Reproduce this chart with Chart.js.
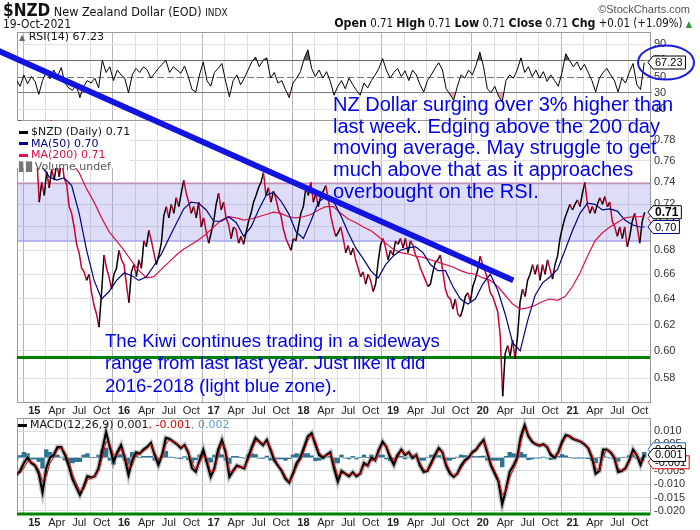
<!DOCTYPE html>
<html>
<head>
<meta charset="utf-8">
<title>$NZD New Zealand Dollar (EOD)</title>
<script src="https://cdn.jsdelivr.net/npm/chart.js@4.4.1/dist/chart.umd.min.js"></script>
<style>
  body { margin: 0; background: #fff; }
  #wrap { position: relative; width: 700px; height: 530px; overflow: hidden; font-family: 'Liberation Sans', Arial, sans-serif; color: #111; }
  #chart { position: absolute; left: 0; top: 0; }
  .abs { position: absolute; white-space: nowrap; }
  .narrow { font-family: 'Liberation Sans Narrow', 'DejaVu Sans Condensed', 'Liberation Sans', sans-serif; }
  .verd { font-family: 'DejaVu Sans', Verdana, sans-serif; font-size: 11px; }
  .sw { display: inline-block; width: 9px; height: 3px; vertical-align: middle; margin-right: 3px; }
  .note { position: absolute; color: #0000ee; white-space: nowrap; font-family: 'Liberation Sans', Arial, sans-serif; }
  .hb { font-weight: bold; font-size: 12.3px; }
</style>
</head>
<body>
<div id="wrap">
  <canvas id="chart" width="700" height="530"></canvas>

  <div class="abs narrow" style="left:3px; top:0px; font-size:12.5px;"><b style="font-size:17px">$NZD</b> New Zealand Dollar (EOD) <span style="font-size:10px">INDX</span></div>
  <div class="abs" style="right:10px; top:3px; font-size:11px; color:#555;">&copy;StockCharts.com</div>
  <div class="abs narrow" style="left:3px; top:17px; font-size:12px;">19-Oct-2021</div>
  <div class="abs narrow" style="right:8px; top:16px; font-size:11.4px;"><span class="hb">Open</span> 0.71 <span class="hb">High</span> 0.71 <span class="hb">Low</span> 0.71 <span class="hb">Close</span> 0.71 <span class="hb">Chg</span> +0.01 (+1.09%) <span style="color:#2a9a2a; font-size:9px">&#9650;</span></div>

  <div class="abs verd" style="left:19px; top:31px; line-height:11px;"><span style="color:#666; font-size:8px">&#9650;</span> RSI(14) 67.23</div>

  <div class="abs verd" style="left:17px; top:121px; width:113px; height:47px; background:#fff; padding-top:5px; line-height:11.5px; box-sizing:border-box;">
    <div style="padding-left:2px"><span class="sw" style="background:#000"></span>$NZD (Daily) 0.71</div>
    <div style="padding-left:2px; color:#000080"><span class="sw" style="background:#000080"></span>MA(50) 0.70</div>
    <div style="padding-left:2px; color:#dd1144"><span class="sw" style="background:#dd1144"></span>MA(200) 0.71</div>
    <div style="padding-left:2px; color:#555"><span style="color:#777; font-size:9px; margin-right:2px">&#9611;&#9609;</span>Volume undef</div>
  </div>

  <div class="abs verd" style="left:18px; top:419px; line-height:12px;"><span class="sw" style="background:#000"></span>MACD(12,26,9) 0.001<span style="color:#e00000">, -0.001</span><span style="color:#6699cc">, 0.002</span></div>

  <div class="note" style="left:333px; top:94px; font-size:20px; line-height:21.7px;">NZ Dollar surging over 3% higher than<br>last week. Edging above the 200 day<br>moving average. May struggle to get<br>much above that as it approaches<br>overbought on the RSI.</div>
  <div class="note" style="left:105px; top:330px; font-size:18.6px; line-height:22.3px;">The Kiwi continues trading in a sideways<br>range from last last year. Just like it did<br>2016-2018 (light blue zone).</div>
</div>

<script>
// time axis is in fractional years
const xMin = 2014.807;
const xMax = 2021.864;
const lastDate = 2021.805;

// closing price, three samples a month (about the 1st, 11th and 21st)
const priceStart = 2014.805;
const priceValues = [
  0.785, 0.790, 0.775, 0.785, 0.780, 0.770, 0.780,
  // 2015
  0.780, 0.765, 0.722,  0.740, 0.728, 0.750,  0.735, 0.752, 0.742,  0.758, 0.745, 0.762,
  0.744, 0.738, 0.718,  0.712, 0.700, 0.685,  0.678, 0.665, 0.662,  0.655, 0.660, 0.645,
  0.635, 0.628, 0.618,  0.645, 0.676, 0.665,  0.658, 0.648, 0.660,  0.665, 0.680, 0.672,
  // 2016
  0.668, 0.652, 0.637,  0.662, 0.668, 0.658,  0.672, 0.665, 0.688,  0.683, 0.697, 0.688,
  0.678, 0.668, 0.676,  0.686, 0.710, 0.718,  0.708, 0.720, 0.712,  0.726, 0.718, 0.730,
  0.742, 0.730, 0.722,  0.712, 0.718, 0.708,  0.722, 0.700, 0.708,  0.696, 0.686, 0.695,
  // 2017
  0.705, 0.720, 0.730,  0.715, 0.722, 0.708,  0.702, 0.690, 0.700,  0.698, 0.686, 0.692,
  0.685, 0.695, 0.705,  0.712, 0.722, 0.728,  0.735, 0.740, 0.749,  0.728, 0.735, 0.722,
  0.732, 0.725, 0.715,  0.710, 0.698, 0.690,  0.685, 0.680, 0.690,  0.688, 0.700, 0.712,
  // 2018
  0.718, 0.735, 0.728,  0.740, 0.722, 0.730,  0.718, 0.728, 0.732,  0.737, 0.725, 0.710,
  0.700, 0.692, 0.695,  0.700, 0.690, 0.678,  0.684, 0.676, 0.682,  0.672, 0.665, 0.658,
  0.662, 0.652, 0.660,  0.655, 0.646, 0.652,  0.670, 0.685, 0.690,  0.682, 0.672, 0.680,
  // 2019
  0.676, 0.688, 0.685,  0.690, 0.682, 0.690,  0.678, 0.688, 0.684,  0.676, 0.672, 0.665,
  0.660, 0.655, 0.650,  0.652, 0.662, 0.670,  0.672, 0.676, 0.662,  0.648, 0.642, 0.640,
  0.632, 0.640, 0.628,  0.626, 0.632, 0.642,  0.645, 0.638, 0.650,  0.656, 0.664, 0.675,
  // 2020
  0.668, 0.662, 0.656,  0.645, 0.642, 0.636,  0.630, 0.612, 0.567,  0.598, 0.604, 0.596,
  0.608, 0.594, 0.612,  0.638, 0.648, 0.642,  0.655, 0.660, 0.668,  0.660, 0.668, 0.655,
  0.668, 0.660, 0.672,  0.664, 0.656, 0.668,  0.675, 0.690, 0.700,  0.708, 0.714, 0.720,
  // 2021
  0.715, 0.720, 0.724,  0.718, 0.730, 0.740,  0.720, 0.712, 0.718,  0.712, 0.720, 0.726,
  0.720, 0.727, 0.718,  0.722, 0.705, 0.700,  0.692, 0.700, 0.690,  0.700, 0.683, 0.692,
  0.705, 0.712, 0.700,  0.686, 0.705, 0.713
];

// moving averages, one sample a month from Nov 2014
const maStart = 2014 + 10 / 12;
const ma50Values = [
  0.800, 0.787,
  0.775, 0.755, 0.745, 0.742, 0.744, 0.737, 0.712, 0.680, 0.655, 0.640, 0.646, 0.655,
  0.661, 0.659, 0.655, 0.658, 0.667, 0.677, 0.690, 0.703, 0.716, 0.722, 0.721, 0.715,
  0.705, 0.705, 0.709, 0.704, 0.692, 0.700, 0.715, 0.728, 0.731, 0.723, 0.712, 0.696,
  0.690, 0.705, 0.722, 0.727, 0.723, 0.710, 0.695, 0.682, 0.673, 0.663, 0.657, 0.668,
  0.675, 0.680, 0.682, 0.683, 0.678, 0.668, 0.663, 0.663, 0.650, 0.640, 0.636, 0.640,
  0.652, 0.660, 0.647, 0.628, 0.606, 0.600, 0.623, 0.643, 0.653, 0.658, 0.664, 0.680,
  0.697, 0.712, 0.721, 0.720, 0.715, 0.716, 0.714, 0.706, 0.702, 0.700, 0.700
];
const ma200Values = [
  0.835, 0.830,
  0.825, 0.815, 0.803, 0.787, 0.772, 0.758, 0.749, 0.734, 0.722, 0.708, 0.696, 0.688,
  0.680, 0.671, 0.663, 0.657, 0.658, 0.664, 0.670, 0.676, 0.681, 0.685, 0.689, 0.694,
  0.700, 0.706, 0.709, 0.708, 0.706, 0.707, 0.709, 0.711, 0.713, 0.712, 0.709, 0.708,
  0.709, 0.711, 0.715, 0.718, 0.718, 0.712, 0.707, 0.704, 0.700, 0.697, 0.692, 0.686,
  0.681, 0.678, 0.677, 0.675, 0.674, 0.672, 0.670, 0.668, 0.666, 0.663, 0.661, 0.660,
  0.657, 0.655, 0.650, 0.643, 0.636, 0.632, 0.633, 0.635, 0.638, 0.640, 0.639, 0.642,
  0.650, 0.661, 0.675, 0.688, 0.695, 0.700, 0.704, 0.708, 0.709, 0.709, 0.710
];

// indicators, two samples a month
const halfStart = 2014.80;
const rsiValues = [
  46, 38, 52, 41, 50, 44, 28, 45, 56, 47, 58, 50,
  61, 42, 36, 33, 40, 24, 38, 45, 42, 48, 36, 70,
  55, 62, 45, 58, 52, 48, 30, 52, 60, 55, 62, 58,
  48, 54, 60, 65, 70, 55, 62, 58, 54, 63, 50, 34,
  31, 52, 68, 45, 38, 55, 60, 66, 44, 25, 45, 52,
  40, 48, 58, 68, 74, 62, 70, 73, 48, 55, 42, 45,
  34, 24, 42, 48, 56, 72, 83, 60, 50, 58, 48, 56,
  44, 27, 38, 45, 35, 48, 40, 33, 27, 42, 36, 45,
  52, 60, 72, 58, 48, 55, 60, 50, 57, 45, 58, 52,
  40, 31, 45, 52, 60, 67, 58, 35, 28, 21, 38, 52,
  48, 58, 52, 64, 80, 62, 35, 30, 38, 26, 19, 45,
  52, 48, 58, 73, 55, 62, 50, 58, 48, 56, 44, 52,
  45, 38, 55, 78, 70, 62, 68, 58, 65, 55, 45, 31,
  48, 55, 60, 52, 45, 31, 48, 42, 55, 66, 40, 34,
  67.23
];
const macdValues = [
  -0.0065, -0.005, -0.002, 0.000, -0.002, -0.003, -0.006, -0.013, -0.004, 0.000, 0.001, 0.004,
  0.004, 0.001, -0.003, -0.008, -0.011, -0.014, -0.011, -0.007, -0.0075, -0.007, -0.004, 0.003,
  0.0096, 0.004, -0.0015, 0.002, 0.0047, 0.000, -0.0065, -0.001, 0.002, 0.0015, 0.003, 0.004,
  0.0055, 0.001, -0.0027, 0.001, 0.0074, 0.007, 0.006, 0.005, 0.0036, 0.0047, 0.002, -0.004,
  -0.0053, -0.001, 0.0029, -0.002, -0.0072, -0.004, 0.003, 0.0066, 0.002, -0.0072, -0.005, -0.003,
  -0.0035, -0.004, 0.000, 0.004, 0.0074, 0.006, 0.0047, 0.0066, 0.003, -0.001, -0.003, -0.005,
  -0.008, -0.0094, -0.006, -0.002, 0.000, 0.004, 0.008, 0.0092, 0.005, 0.001, 0.000, 0.001,
  0.002, -0.004, -0.009, -0.005, -0.006, -0.007, -0.0055, -0.007, -0.006, -0.002, -0.003, 0.000,
  -0.001, 0.003, 0.006, 0.004, 0.000, -0.0027, 0.001, 0.003, 0.001, 0.002, 0.000, 0.001,
  -0.003, -0.0054, -0.005, -0.002, 0.001, 0.0036, 0.002, -0.003, -0.006, -0.0072, -0.006, -0.003,
  -0.001, 0.000, 0.002, 0.003, 0.005, 0.0066, 0.002, -0.003, -0.006, -0.009, -0.0175, -0.012,
  -0.0054, -0.003, 0.000, 0.008, 0.0122, 0.008, 0.006, 0.005, 0.0045, 0.005, 0.004, 0.001,
  0.000, 0.002, 0.006, 0.0085, 0.008, 0.007, 0.0065, 0.006, 0.005, 0.0036, 0.000, -0.006,
  -0.005, 0.003, 0.003, 0.002, 0.000, -0.0054, -0.005, -0.004, -0.001, 0.003, 0.001, -0.0027,
  0.001
];
const signalValues = [
  -0.006, -0.0058, -0.004, -0.0015, -0.0015, -0.0025, -0.0045, -0.009, -0.007, -0.002, 0.000, 0.003,
  0.0038, 0.002, -0.001, -0.006, -0.0095, -0.0125, -0.012, -0.0085, -0.0075, -0.007, -0.005, 0.000,
  0.006, 0.005, 0.001, 0.001, 0.0035, 0.001, -0.004, -0.003, 0.001, 0.0015, 0.0025, 0.0035,
  0.005, 0.002, -0.001, 0.000, 0.005, 0.0068, 0.006, 0.0052, 0.004, 0.0043, 0.0028, -0.002,
  -0.0045, -0.002, 0.001, -0.0005, -0.0055, -0.005, 0.001, 0.0055, 0.003, -0.005, -0.0055, -0.0035,
  -0.0035, -0.0038, -0.0012, 0.0025, 0.0062, 0.0062, 0.005, 0.006, 0.004, 0.000, -0.0025, -0.0045,
  -0.007, -0.009, -0.007, -0.0035, -0.001, 0.0025, 0.0065, 0.0085, 0.0062, 0.002, 0.0005, 0.0008,
  0.0015, -0.002, -0.007, -0.006, -0.0058, -0.0065, -0.006, -0.0065, -0.006, -0.003, -0.003, -0.001,
  -0.001, 0.002, 0.005, 0.0045, 0.0012, -0.0015, 0.000, 0.0025, 0.0015, 0.0018, 0.0005, 0.0008,
  -0.002, -0.0045, -0.005, -0.003, 0.000, 0.0028, 0.0022, -0.002, -0.005, -0.0068, -0.0062, -0.004,
  -0.0018, -0.0005, 0.0015, 0.0026, 0.0045, 0.006, 0.003, -0.002, -0.005, -0.008, -0.014, -0.0125,
  -0.0075, -0.0045, -0.0012, 0.006, 0.011, 0.0088, 0.0065, 0.0052, 0.0046, 0.0048, 0.0042, 0.0018,
  0.0004, 0.0015, 0.0048, 0.0078, 0.008, 0.0072, 0.0066, 0.0061, 0.0052, 0.004, 0.001, -0.004,
  -0.005, 0.001, 0.0028, 0.0022, 0.0005, -0.004, -0.005, -0.0042, -0.0018, 0.002, 0.0014, -0.0015,
  -0.001
];
const histValues = [
  -0.0005, 0.0008, 0.002, 0.0015, -0.0005, -0.0005, -0.0015, -0.004, 0.003, 0.002, 0.001, 0.001,
  0.0002, -0.001, -0.002, -0.002, -0.0015, -0.0015, 0.001, 0.0015, 0.000, 0.000, 0.001, 0.003,
  0.0036, -0.001, -0.0025, 0.001, 0.0012, -0.001, -0.0025, 0.002, 0.001, 0.000, 0.0005, 0.0005,
  0.0005, -0.001, -0.0017, 0.001, 0.0024, 0.0002, 0.000, -0.0002, -0.0004, 0.0004, -0.0008, -0.002,
  -0.0008, 0.001, 0.0019, -0.0015, -0.0017, 0.001, 0.002, 0.0011, -0.001, -0.0022, 0.0005, 0.0005,
  0.000, -0.0002, 0.0012, 0.0015, 0.0012, -0.0002, -0.0003, 0.0006, -0.001, -0.001, -0.0005, -0.0005,
  -0.001, -0.0004, 0.001, 0.0015, 0.001, 0.0015, 0.0015, 0.0007, -0.0012, -0.001, -0.0005, 0.0002,
  0.0005, -0.002, -0.002, 0.001, -0.0002, -0.0005, 0.0005, -0.0005, 0.000, 0.001, 0.000, 0.001,
  0.000, 0.001, 0.001, -0.0005, -0.0012, -0.0012, 0.001, 0.0005, -0.0005, 0.0002, -0.0005, 0.0002,
  -0.001, -0.001, 0.000, 0.001, 0.001, 0.0008, -0.0002, -0.001, -0.001, -0.0004, 0.0002, 0.001,
  0.0008, 0.0005, 0.0005, 0.0004, 0.0005, 0.0006, -0.001, -0.001, -0.001, -0.001, -0.0035, 0.0005,
  0.002, 0.0015, 0.0012, 0.002, 0.0012, -0.0008, -0.0005, -0.0002, -0.0001, 0.0002, -0.0002, -0.0008,
  -0.0004, 0.0005, 0.0012, 0.0007, 0.000, -0.0002, -0.0001, -0.0001, -0.0002, -0.0004, -0.001, -0.002,
  0.000, 0.002, 0.0002, -0.0002, -0.0005, -0.0014, 0.000, 0.0002, 0.0008, 0.001, -0.0004, -0.0012,
  0.002
];

const xTicks = [2015, 2015.25, 2015.5, 2015.75, 2016, 2016.25, 2016.5, 2016.75,
  2017, 2017.25, 2017.5, 2017.75, 2018, 2018.25, 2018.5, 2018.75,
  2019, 2019.25, 2019.5, 2019.75, 2020, 2020.25, 2020.5, 2020.75,
  2021, 2021.25, 2021.5, 2021.75];
const xTickLabels = ['15', 'Apr', 'Jul', 'Oct', '16', 'Apr', 'Jul', 'Oct',
  '17', 'Apr', 'Jul', 'Oct', '18', 'Apr', 'Jul', 'Oct',
  '19', 'Apr', 'Jul', 'Oct', '20', 'Apr', 'Jul', 'Oct',
  '21', 'Apr', 'Jul', 'Oct'];
const rsiTicks = [10, 30, 50, 70, 90];
const priceTicks = [0.58, 0.60, 0.62, 0.64, 0.66, 0.68, 0.70, 0.72, 0.74, 0.76, 0.78];
const macdTicks = [-0.020, -0.015, -0.010, -0.005, 0, 0.005, 0.010];

// annotations
const zoneLow = 0.688;
const zoneHigh = 0.739;
const supportLevel = 0.595;
const trendStart = { x: 2014.57, y: 0.873 };
const trendEnd = { x: 2020.34, y: 0.655 };

const FONT = '"Liberation Sans", Arial, sans-serif';

function toPoints(values, start, step) {
  return values.map((v, i) => ({ x: Math.min(start + i * step, lastDate), y: v }));
}

function isYearLabel(i) {
  return /^\d+$/.test(xTickLabels[i]);
}

function setTicks(list) {
  return function(axis) {
    axis.ticks = list.map(v => ({ value: v }));
  };
}

function fixWidth(axis) {
  axis.width = 50;
}

function tagBox(ctx, x, y, text, border, bold) {
  ctx.font = (bold ? 'bold 12px ' : '11px ') + FONT;
  const w = ctx.measureText(text).width + 5;
  const h = 13;
  ctx.beginPath();
  ctx.moveTo(x, y);
  ctx.lineTo(x + 5, y - h / 2);
  ctx.lineTo(x + 5 + w, y - h / 2);
  ctx.lineTo(x + 5 + w, y + h / 2);
  ctx.lineTo(x + 5, y + h / 2);
  ctx.closePath();
  ctx.fillStyle = '#fff';
  ctx.fill();
  ctx.strokeStyle = border;
  ctx.lineWidth = 1;
  ctx.stroke();
  ctx.fillStyle = '#000';
  ctx.textAlign = 'left';
  ctx.textBaseline = 'middle';
  ctx.fillText(text, x + 7, y + 0.5);
}

function hline(ctx, x0, x1, y) {
  ctx.beginPath();
  ctx.moveTo(x0, y);
  ctx.lineTo(x1, y);
  ctx.stroke();
}

// keep every dataset inside its own panel
const panelClip = {
  id: 'panelClip',
  beforeDatasetDraw(chart, args) {
    const ys = args.meta.yScale;
    const a = chart.chartArea;
    chart.ctx.save();
    chart.ctx.beginPath();
    chart.ctx.rect(a.left, ys.top, a.right - a.left, ys.bottom - ys.top);
    chart.ctx.clip();
  },
  afterDatasetDraw(chart) {
    chart.ctx.restore();
  }
};

const panelDecor = {
  id: 'panelDecor',
  beforeDatasetsDraw(chart) {
    const ctx = chart.ctx;
    const a = chart.chartArea;
    const s = chart.scales;
    ctx.save();

    // strip between price and MACD panels holds a second row of dates
    ctx.fillStyle = '#fff';
    ctx.fillRect(a.left - 1, s.price.bottom + 1, a.right - a.left + 2, s.macd.top - s.price.bottom - 1);
    ctx.fillStyle = '#222';
    ctx.textAlign = 'center';
    ctx.textBaseline = 'middle';
    const midY = (s.price.bottom + s.macd.top) / 2 + 1;
    xTicks.forEach((v, i) => {
      ctx.font = (isYearLabel(i) ? 'bold ' : '') + '11px ' + FONT;
      ctx.fillText(xTickLabels[i], s.x.getPixelForValue(v), midY);
    });

    // light blue trading range
    const zt = s.price.getPixelForValue(zoneHigh);
    const zb = s.price.getPixelForValue(zoneLow);
    ctx.fillStyle = 'rgba(150,150,230,0.32)';
    ctx.fillRect(a.left, zt, a.right - a.left, zb - zt);
    ctx.lineWidth = 1.5;
    ctx.strokeStyle = '#c58fb8';
    hline(ctx, a.left, a.right, zt);
    ctx.strokeStyle = '#a4a4ee';
    hline(ctx, a.left, a.right, zb);

    // RSI centre line
    ctx.lineWidth = 1;
    ctx.strokeStyle = '#777';
    ctx.setLineDash([7, 3]);
    hline(ctx, a.left, a.right, Math.round(s.rsi.getPixelForValue(50)) + 0.5);
    ctx.setLineDash([]);

    // panel frames
    ctx.strokeStyle = '#9a9a9a';
    [s.rsi, s.price, s.macd].forEach(sc => {
      ctx.strokeRect(a.left + 0.5, sc.top + 0.5, a.right - a.left, sc.bottom - sc.top);
    });
    ctx.strokeStyle = '#008000';
    ctx.lineWidth = 3;
    hline(ctx, a.left, a.right, s.macd.bottom);
    ctx.restore();
  },
  afterDatasetsDraw(chart) {
    const ctx = chart.ctx;
    const a = chart.chartArea;
    const s = chart.scales;
    ctx.save();

    // hand drawn downtrend line
    ctx.strokeStyle = '#1414e0';
    ctx.lineWidth = 6;
    ctx.beginPath();
    ctx.moveTo(s.x.getPixelForValue(trendStart.x), s.price.getPixelForValue(trendStart.y));
    ctx.lineTo(s.x.getPixelForValue(trendEnd.x), s.price.getPixelForValue(trendEnd.y));
    ctx.stroke();

    // last value tags on the right axis
    const tx = a.right - 2;
    const lastRsi = rsiValues[rsiValues.length - 1];
    tagBox(ctx, tx, s.rsi.getPixelForValue(lastRsi), lastRsi.toFixed(2), '#000', false);

    const ma200Last = ma200Values[ma200Values.length - 1];
    const ma50Last = ma50Values[ma50Values.length - 1];
    const closeLast = priceValues[priceValues.length - 1];
    tagBox(ctx, tx, s.price.getPixelForValue(ma200Last) + 3, ma200Last.toFixed(2), '#dd1144', false);
    tagBox(ctx, tx, s.price.getPixelForValue(ma50Last), ma50Last.toFixed(2), '#000080', false);
    tagBox(ctx, tx, s.price.getPixelForValue(closeLast), closeLast.toFixed(2), '#000', true);

    const histLast = histValues[histValues.length - 1];
    const sigLast = signalValues[signalValues.length - 1];
    const macdLast = macdValues[macdValues.length - 1];
    tagBox(ctx, tx, s.macd.getPixelForValue(histLast) - 3, histLast.toFixed(3), '#3366cc', false);
    tagBox(ctx, tx, s.macd.getPixelForValue(sigLast) + 2, sigLast.toFixed(3), '#e00000', false);
    tagBox(ctx, tx, s.macd.getPixelForValue(macdLast), macdLast.toFixed(3), '#000', false);

    // circle round the RSI reading
    ctx.strokeStyle = '#1a1adf';
    ctx.lineWidth = 2;
    ctx.beginPath();
    ctx.ellipse(a.right + 16, s.rsi.getPixelForValue(lastRsi), 28, 17, 0, 0, Math.PI * 2);
    ctx.stroke();
    ctx.restore();
  }
};

const axisFont = { family: FONT, size: 11 };
const rsiPoints = toPoints(rsiValues, halfStart, 1 / 24);
const macdPoints = toPoints(macdValues, halfStart, 1 / 24);

new Chart(document.getElementById('chart'), {
  type: 'line',
  data: {
    datasets: [
      {
        label: 'MA(50)',
        data: toPoints(ma50Values, maStart, 1 / 12),
        yAxisID: 'price',
        borderColor: '#000080',
        borderWidth: 1.2,
        order: 1
      },
      {
        label: 'MA(200)',
        data: toPoints(ma200Values, maStart, 1 / 12),
        yAxisID: 'price',
        borderColor: '#dd1144',
        borderWidth: 1.2,
        order: 2
      },
      {
        label: '$NZD',
        data: toPoints(priceValues, priceStart, 1 / 36),
        yAxisID: 'price',
        borderColor: '#cc0033',
        borderWidth: 1.5,
        segment: {
          borderColor: c => c.p1.parsed.y >= c.p0.parsed.y ? '#000' : '#cc0033'
        },
        order: 3
      },
      {
        label: 'support',
        data: [{ x: xMin, y: supportLevel }, { x: xMax, y: supportLevel }],
        yAxisID: 'price',
        borderColor: '#008000',
        borderWidth: 3,
        order: 4
      },
      {
        label: 'RSI(14)',
        data: rsiPoints,
        yAxisID: 'rsi',
        borderColor: '#000',
        borderWidth: 1,
        fill: { target: { value: 70 }, above: 'rgba(40,40,40,0.75)', below: 'rgba(0,0,0,0)' },
        order: 1
      },
      {
        label: 'RSI oversold',
        data: rsiPoints,
        yAxisID: 'rsi',
        borderWidth: 0,
        borderColor: 'rgba(0,0,0,0)',
        fill: { target: { value: 30 }, above: 'rgba(0,0,0,0)', below: 'rgba(230,120,150,0.7)' },
        order: 2
      },
      {
        label: 'Signal',
        data: toPoints(signalValues, halfStart, 1 / 24),
        yAxisID: 'macd',
        borderColor: '#e00000',
        borderWidth: 1,
        order: 0
      },
      {
        label: 'MACD',
        data: macdPoints,
        yAxisID: 'macd',
        borderColor: '#000',
        borderWidth: 2.2,
        order: 1
      },
      {
        label: 'MACD shadow',
        data: macdPoints,
        yAxisID: 'macd',
        borderColor: 'rgba(140,140,140,0.55)',
        borderWidth: 5,
        order: 2
      },
      {
        type: 'bar',
        label: 'Histogram',
        data: toPoints(histValues, halfStart, 1 / 24),
        yAxisID: 'macd',
        backgroundColor: '#2d7394',
        barPercentage: 1,
        categoryPercentage: 1,
        order: 5
      }
    ]
  },
  options: {
    responsive: false,
    animation: false,
    events: [],
    devicePixelRatio: 1,
    layout: { padding: { left: 17, right: 0, top: 32, bottom: 0 } },
    elements: {
      point: { radius: 0 },
      line: { tension: 0, fill: false }
    },
    plugins: {
      legend: { display: false },
      tooltip: { enabled: false }
    },
    scales: {
      x: {
        type: 'linear',
        min: xMin,
        max: xMax,
        offset: false,
        bounds: 'data',
        afterBuildTicks: setTicks(xTicks),
        afterFit: axis => { axis.height = 16; },
        ticks: {
          autoSkip: false,
          maxRotation: 0,
          padding: 2,
          color: '#222',
          callback: (v, i) => xTickLabels[i],
          font: c => ({ family: FONT, size: 11, weight: isYearLabel(c.index) ? 'bold' : 'normal' })
        },
        grid: {
          drawTicks: false,
          color: c => (c.tick && Number.isInteger(c.tick.value)) ? '#b4b4b4' : '#dcdcdc'
        },
        border: { display: false }
      },
      rsi: {
        type: 'linear',
        position: 'right',
        stack: 'panels',
        stackWeight: 88,
        min: -3.5,
        max: 104.8,
        bounds: 'data',
        afterBuildTicks: setTicks(rsiTicks),
        afterFit: fixWidth,
        ticks: { autoSkip: false, font: axisFont, color: '#333', padding: 2 },
        grid: {
          tickLength: 2,
          color: c => (c.tick.value === 30 || c.tick.value === 70) ? '#7a7a7a' : (c.tick.value === 50 ? 'rgba(0,0,0,0)' : '#e2e2e2')
        },
        border: { color: '#999' }
      },
      price: {
        type: 'logarithmic',
        position: 'right',
        stack: 'panels',
        stackWeight: 282,
        min: 0.563,
        max: 0.7997,
        bounds: 'data',
        afterBuildTicks: setTicks(priceTicks),
        afterFit: fixWidth,
        ticks: { autoSkip: false, font: axisFont, color: '#333', padding: 2, callback: v => Number(v).toFixed(2) },
        grid: { tickLength: 2, color: '#dedede' },
        border: { color: '#999' }
      },
      gap: {
        type: 'linear',
        position: 'right',
        stack: 'panels',
        stackWeight: 16,
        afterFit: fixWidth,
        ticks: { display: false },
        grid: { display: false },
        border: { display: false }
      },
      macd: {
        type: 'linear',
        position: 'right',
        stack: 'panels',
        stackWeight: 96,
        min: -0.0212,
        max: 0.0149,
        bounds: 'data',
        afterBuildTicks: setTicks(macdTicks),
        afterFit: fixWidth,
        ticks: { autoSkip: false, font: axisFont, color: '#333', padding: 2, callback: v => Number(v).toFixed(3) },
        grid: { tickLength: 2, color: '#dedede' },
        border: { color: '#999' }
      }
    }
  },
  plugins: [panelClip, panelDecor]
});
</script>
</body>
</html>
